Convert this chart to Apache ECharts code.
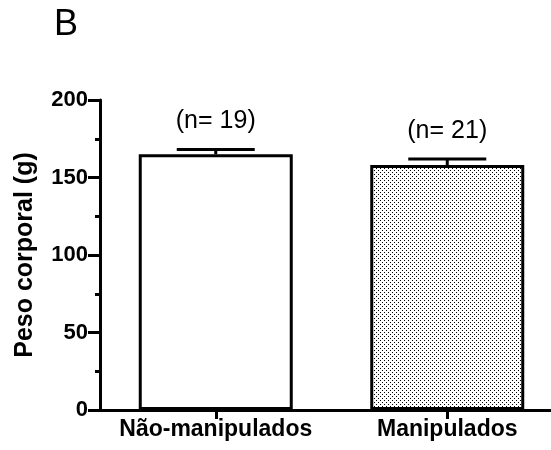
<!DOCTYPE html>
<html>
<head>
<meta charset="utf-8">
<script src="https://cdn.jsdelivr.net/npm/echarts@6/dist/echarts.min.js"></script>
<style>html,body{margin:0;padding:0;background:#fff;}#c{width:551px;height:450px;}</style>
</head>
<body>
<div id="c"></div>
<script>
const categories = ['Não-manipulados', 'Manipulados'];
const means = [165, 158];
const sems = [3, 4];
const nLabels = ['(n= 19)', '(n= 21)'];
const yTicks = [0, 50, 100, 150, 200];

function makePattern() {
  const c = document.createElement('canvas');
  c.width = 4; c.height = 4;
  const ctx = c.getContext('2d');
  ctx.fillStyle = '#fff';
  ctx.fillRect(0, 0, 4, 4);
  ctx.fillStyle = '#000';
  ctx.fillRect(0, 0, 1, 1);
  ctx.fillRect(2, 2, 1, 1);
  return c;
}
const pattern = { image: makePattern(), repeat: 'repeat' };

const chart = echarts.init(document.getElementById('c'), null, { renderer: 'canvas' });
const font = 'Liberation Sans, Arial, Helvetica, sans-serif';
chart.setOption({
  animation: false,
  backgroundColor: '#fff',
  graphic: [{
    type: 'text', left: 54, top: 7,
    style: { text: 'B', font: '36px ' + font, fill: '#000' }
  }],
  grid: { left: 100, top: 100, width: 463, height: 310, outerBoundsMode: 'none', containLabel: false },
  xAxis: {
    type: 'category',
    data: categories,
    boundaryGap: true,
    axisLine: { lineStyle: { color: '#000', width: 3 } },
    axisTick: { show: true, alignWithLabel: true, length: 9, lineStyle: { color: '#000', width: 3 } },
    axisLabel: { interval: 0, hideOverlap: false, color: '#000', fontFamily: font, fontWeight: 'bold', fontSize: 23, margin: 8 }
  },
  yAxis: {
    type: 'value',
    min: yTicks[0], max: yTicks[yTicks.length - 1], interval: 50,
    name: 'Peso corporal (g)',
    nameLocation: 'middle',
    nameGap: 62,
    nameTextStyle: { color: '#000', fontFamily: font, fontWeight: 'bold', fontSize: 25 },
    axisLine: { show: true, lineStyle: { color: '#000', width: 3 } },
    axisTick: { show: true, length: 12, lineStyle: { color: '#000', width: 3 } },
    minorTick: { show: true, splitNumber: 2, length: 5, lineStyle: { color: '#000', width: 3 } },
    splitLine: { show: false },
    axisLabel: { color: '#000', fontFamily: font, fontWeight: 'bold', fontSize: 22, margin: 12 }
  },
  series: [{
    type: 'bar',
    barWidth: 154,
    data: means.map((v, i) => ({
      value: v,
      itemStyle: { color: i === 0 ? '#fff' : pattern }
    })),
    itemStyle: { borderColor: '#000', borderWidth: 3 },
    z: 2
  }, {
    type: 'custom',
    z: 3,
    data: means.map((v, i) => [i, v, sems[i]]),
    renderItem: function (params, api) {
      const i = api.value(0);
      const top = api.coord([i, api.value(1) + api.value(2)]);
      const base = api.coord([i, api.value(1)]);
      const half = 39;
      return {
        type: 'group',
        children: [
          { type: 'line', shape: { x1: top[0], y1: top[1], x2: top[0], y2: base[1] }, style: { stroke: '#000', lineWidth: 3 } },
          { type: 'line', shape: { x1: top[0] - half, y1: top[1], x2: top[0] + half, y2: top[1] }, style: { stroke: '#000', lineWidth: 3 } },
          { type: 'text', x: top[0], y: top[1] - 28, style: { text: nLabels[i], font: '25px ' + font, fill: '#000', align: 'center', verticalAlign: 'middle' } }
        ]
      };
    }
  }]
});
</script>
</body>
</html>
